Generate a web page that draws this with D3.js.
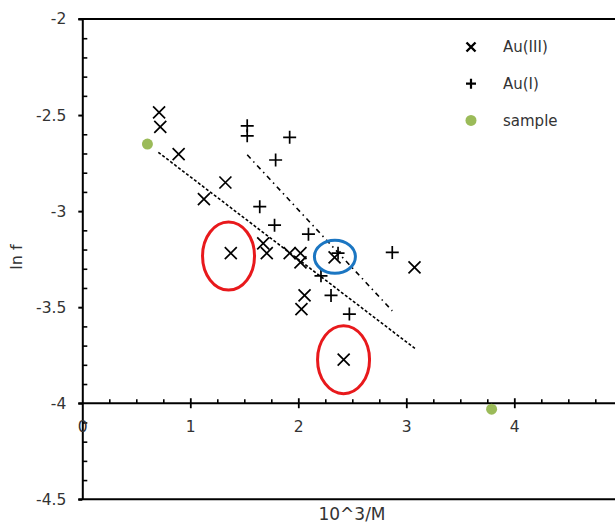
<!DOCTYPE html>
<html>
<head>
<meta charset="utf-8">
<script src="https://cdn.jsdelivr.net/npm/d3@7"></script>
<style>
  body { margin: 0; background: #fff; }
  svg { display: block; }
  text { font-family: "DejaVu Sans", sans-serif; fill: #333; }
</style>
</head>
<body>
<div class="chart"></div>
<script>
// Au(III) points (x = 10^3/M, y = ln f)
var au3X = [0.711, 0.722, 0.892, 1.126, 1.325, 1.375, 1.675, 1.708, 1.92, 2.02, 2.02, 2.336, 2.058, 2.029, 2.42, 3.076];
var au3Y = [-2.486, -2.561, -2.703, -2.938, -2.851, -3.219, -3.168, -3.219, -3.219, -3.219, -3.267, -3.241, -3.439, -3.51, -3.773, -3.293];

// Au(I) points
var au1X = [1.527, 1.527, 1.92, 1.79, 1.643, 1.78, 2.094, 2.368, 2.87, 2.21, 2.303, 2.473];
var au1Y = [-2.556, -2.608, -2.616, -2.734, -2.977, -3.073, -3.12, -3.219, -3.215, -3.337, -3.439, -3.536];

// sample points
var sampleX = [0.603, 3.79];
var sampleY = [-2.651, -4.031];

// trend line end points
var trend3X = [0.704, 3.08], trend3Y = [-2.694, -3.715];
var trend1X = [1.527, 2.87], trend1Y = [-2.707, -3.519];

// highlight rings (centres)
var redX = [1.354, 2.419], redY = [-3.234, -3.773];
var blueX = [2.339], blueY = [-3.238];

// axis ticks
var xTicks = [0, 1, 2, 3, 4, 5];
var yTicks = [-2, -2.5, -3, -3.5, -4, -4.5];
var legendNames = ['Au(III)', 'Au(I)', 'sample'];

var width = 615, height = 524;
var svg = d3.select('.chart').append('svg').attr('width', width).attr('height', height);

var x = d3.scaleLinear().domain([0, 5]).range([82.3, 622.3]);
var y = d3.scaleLinear().domain([-4.5, -2]).range([499.3, 19]);

var minorX = d3.range(0, 5.001, 0.25).filter(function (v) { return xTicks.indexOf(v) < 0; });
var minorY = d3.range(-4.5, -1.999, 0.1).map(function (v) { return +v.toFixed(1); })
  .filter(function (v) { return yTicks.indexOf(v) < 0; });

var fmt = function (d) { return String(d); }; // plain hyphen, like the original

// plot frame top / bottom
svg.append('g').selectAll('line').data([-2, -4.5]).enter().append('line')
  .attr('x1', x(0) - 4).attr('x2', x(5))
  .attr('y1', function (d) { return y(d); }).attr('y2', function (d) { return y(d); })
  .attr('stroke', '#000').attr('stroke-width', 2);

// y axis
var yAxis = svg.append('g').attr('transform', 'translate(' + x(0) + ',0)')
  .call(d3.axisLeft(y).tickValues(yTicks).tickSizeInner(4).tickSizeOuter(0).tickPadding(12)
    .tickFormat(fmt));
yAxis.select('.domain').attr('stroke-width', 2);
yAxis.selectAll('.tick line').attr('stroke-width', 2);
yAxis.selectAll('text').attr('font-size', 15.5).style('fill', '#333');

svg.append('g').attr('transform', 'translate(' + x(0) + ',0)')
  .call(d3.axisLeft(y).tickValues(minorY).tickSizeInner(-5).tickSizeOuter(0).tickFormat(''))
  .call(function (g) { g.select('.domain').remove(); g.selectAll('line').attr('stroke-width', 1.6); });

// x axis at y = -4
var xAxis = svg.append('g').attr('transform', 'translate(0,' + y(-4) + ')')
  .call(d3.axisBottom(x).tickValues(xTicks).tickSizeInner(5).tickSizeOuter(0).tickPadding(13)
    .tickFormat(fmt));
xAxis.select('.domain').attr('stroke-width', 2).attr('d', 'M' + (x(0) - 4) + ',0H' + x(5));
xAxis.selectAll('.tick line').attr('y1', -5).attr('stroke-width', 1.8);
xAxis.selectAll('text').attr('font-size', 15.5).style('fill', '#333');
xAxis.selectAll('.tick').filter(function (d) { return d === 0; }).select('line').remove();

svg.append('g').attr('transform', 'translate(0,' + y(-4) + ')')
  .call(d3.axisBottom(x).tickValues(minorX).tickSizeInner(-4).tickSizeOuter(0).tickFormat(''))
  .call(function (g) { g.select('.domain').remove(); g.selectAll('line').attr('stroke-width', 1.6); });

// axis titles
svg.append('text').attr('x', 352).attr('y', 520).attr('text-anchor', 'middle')
  .attr('font-size', 17).text('10^3/M');
svg.append('text').attr('transform', 'translate(22,257) rotate(-90)').attr('text-anchor', 'middle')
  .attr('font-size', 16).text('ln f');

// trend lines
function trend(xs, ys, dash) {
  svg.append('line')
    .attr('x1', x(xs[0])).attr('y1', y(ys[0]))
    .attr('x2', x(xs[1])).attr('y2', y(ys[1]))
    .attr('stroke', '#000').attr('stroke-width', 1.6)
    .attr('stroke-dasharray', dash);
}
trend(trend3X, trend3Y, '3,2');
trend(trend1X, trend1Y, '5,4,1.5,4');

// markers
function crossPath(s) { return 'M' + -s + ',' + -s + 'L' + s + ',' + s + 'M' + -s + ',' + s + 'L' + s + ',' + -s; }
function plusPath(s) { return 'M' + -s + ',0H' + s + 'M0,' + -s + 'V' + s; }

svg.append('g').selectAll('path').data(au3X).enter().append('path')
  .attr('transform', function (d, i) { return 'translate(' + x(d) + ',' + y(au3Y[i]) + ')'; })
  .attr('d', crossPath(6)).attr('stroke', '#000').attr('stroke-width', 1.7).attr('fill', 'none');

svg.append('g').selectAll('path').data(au1X).enter().append('path')
  .attr('transform', function (d, i) { return 'translate(' + x(d) + ',' + y(au1Y[i]) + ')'; })
  .attr('d', plusPath(6.5)).attr('stroke', '#000').attr('stroke-width', 1.7).attr('fill', 'none');

svg.append('g').selectAll('circle').data(sampleX).enter().append('circle')
  .attr('cx', function (d) { return x(d); })
  .attr('cy', function (d, i) { return y(sampleY[i]); })
  .attr('r', 5.5).attr('fill', '#9bbb59');

// highlight rings
svg.append('g').selectAll('ellipse').data(redX).enter().append('ellipse')
  .attr('cx', function (d) { return x(d); })
  .attr('cy', function (d, i) { return y(redY[i]); })
  .attr('rx', 26).attr('ry', 34)
  .attr('fill', 'none').attr('stroke', '#e8191c').attr('stroke-width', 3);

svg.append('g').selectAll('ellipse').data(blueX).enter().append('ellipse')
  .attr('cx', function (d) { return x(d); })
  .attr('cy', function (d, i) { return y(blueY[i]); })
  .attr('rx', 20.5).attr('ry', 16.5)
  .attr('fill', 'none').attr('stroke', '#1b76c2').attr('stroke-width', 3);

// legend
var legend = svg.append('g').attr('transform', 'translate(471,47)');
var item = legend.selectAll('g').data(legendNames).enter().append('g')
  .attr('transform', function (d, i) { return 'translate(0,' + i * 36.7 + ')'; });
item.each(function (d, i) {
  var g = d3.select(this);
  if (i === 0) g.append('path').attr('d', crossPath(4.5)).attr('stroke', '#000').attr('stroke-width', 2.4);
  if (i === 1) g.append('path').attr('d', plusPath(5)).attr('stroke', '#000').attr('stroke-width', 2.2);
  if (i === 2) g.append('circle').attr('r', 5.5).attr('fill', '#9bbb59');
  g.append('text').attr('x', 32).attr('dy', '0.35em').attr('font-size', 15).text(d);
});
</script>
</body>
</html>
